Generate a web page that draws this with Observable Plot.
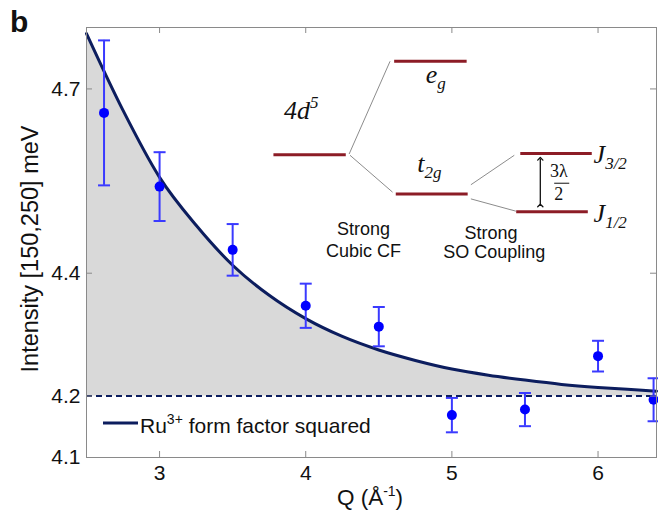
<!DOCTYPE html>
<html><head><meta charset="utf-8">
<script src="https://cdn.jsdelivr.net/npm/d3@7"></script>
<script src="https://cdn.jsdelivr.net/npm/@observablehq/plot@0.6"></script>
<style>
body{margin:0;background:#fff;}
#chart{position:relative;width:658px;height:512px;}
</style></head><body><div id="chart"></div>
<script>
// ---- data ----
const pointQ   = [2.62, 3.0, 3.5, 4.0, 4.5, 5.0, 5.5, 6.0, 6.38];
const pointI   = [4.661, 4.541, 4.438, 4.347, 4.313, 4.169, 4.178, 4.265, 4.194];
const pointErr = [0.118, 0.056, 0.042, 0.036, 0.032, 0.028, 0.027, 0.025, 0.035];

const curveQ = [2.5, 2.75, 3.0, 3.25, 3.5, 3.75, 4.0, 4.25, 4.5, 4.75, 5.0, 5.25, 5.5, 5.75, 6.0, 6.2, 6.4];
const curveI = [4.79, 4.665, 4.556, 4.478, 4.413, 4.364, 4.326, 4.297, 4.275, 4.258, 4.244, 4.234, 4.226, 4.219, 4.214, 4.211, 4.208];

const baselineI = 4.2;
const xTicks = [3, 4, 5, 6];
const yTicks = [4.1, 4.2, 4.4, 4.7];

const xLabel = "Q (Å";
const xLabelSup = "-1";
const yLabel = "Intensity [150,250] meV";
const legendText = "Ru";
const legendSup = "3+";
const legendRest = " form factor squared";
const panelLabel = "b";

// energy-level annotation (in data units of the chart)
const levelNames = ["4d5", "eg", "t2g", "J3/2", "J1/2"];
const levelX1 = [3.779, 4.605, 4.616, 5.468, 5.440];
const levelX2 = [4.274, 5.101, 5.108, 5.957, 5.930];
const levelY  = [4.593, 4.745, 4.529, 4.595, 4.500];
const connX1 = [4.297, 4.303, 5.130, 5.130];
const connY1 = [4.594, 4.592, 4.544, 4.521];
const connX2 = [4.577, 4.594, 5.427, 5.438];
const connY2 = [4.745, 4.532, 4.592, 4.501];

// ---- layout ----
const W = 658, H = 512;
const mL = 86, mT = 27, mR = 2, mB = 55;
const frameW = W - mL - mR, frameH = H - mT - mB;
const sans = "'Liberation Sans', Arial, sans-serif";
const serif = "'Liberation Serif', 'Times New Roman', serif";
const navy = "#0c1d5e";
const errColor = "#3a3aff";
const levelColor = "#8c1c26";
const frameColor = "#8a8a8a";

const points = pointQ.map((q, i) => ({q, v: pointI[i], lo: pointI[i] - pointErr[i], hi: pointI[i] + pointErr[i]}));
const curve = curveQ.map((q, i) => ({q, v: curveI[i]}));
const levels = levelNames.map((n, i) => ({n, x1: levelX1[i], x2: levelX2[i], y: levelY[i]}));
const conns = connX1.map((x, i) => ({x1: x, y1: connY1[i], x2: connX2[i], y2: connY2[i]}));

const capSymbol = {draw(ctx, size) { const r = Math.sqrt(size / Math.PI); ctx.moveTo(-r, 0); ctx.lineTo(r, 0); }};
const fmt = d => String(d);

const chart = Plot.plot({
  width: W, height: H, marginLeft: mL, marginTop: mT, marginRight: mR, marginBottom: mB,
  style: {fontFamily: sans, fontSize: "21px", color: "#111", background: "#fff", overflow: "visible"},
  x: {domain: [2.5, 6.4], label: null},
  y: {domain: [4.1, 4.8], label: null},
  marks: [
    Plot.areaY(curve, {x: "q", y1: baselineI, y2: "v", fill: "#d9d9d9", curve: "monotone-x"}),
    Plot.ruleY([baselineI], {stroke: navy, strokeWidth: 2, strokeDasharray: "6,4"}),
    Plot.line(curve, {x: "q", y: "v", stroke: navy, strokeWidth: 3, curve: "monotone-x"}),
    Plot.ruleX(points, {x: "q", y1: "lo", y2: "hi", stroke: errColor, strokeWidth: 2}),
    Plot.dot(points, {x: "q", y: "lo", symbol: capSymbol, r: 6, stroke: errColor, strokeWidth: 2, fill: "none"}),
    Plot.dot(points, {x: "q", y: "hi", symbol: capSymbol, r: 6, stroke: errColor, strokeWidth: 2, fill: "none"}),
    Plot.dot(points, {x: "q", y: "v", r: 5, fill: "#0000ff", stroke: "none"}),
    // energy level diagram
    Plot.link(conns, {x1: "x1", y1: "y1", x2: "x2", y2: "y2", stroke: "#8c8c8c", strokeWidth: 1}),
    Plot.link(levels, {x1: "x1", y1: "y", x2: "x2", y2: "y", stroke: levelColor, strokeWidth: 3}),
    Plot.link([{x: 5.605, a: 4.5102, b: 4.5862}], {x1: "x", y1: "a", x2: "x", y2: "b", stroke: "#111", strokeWidth: 1.3, markerStart: "arrow", markerEnd: "arrow"}),
    Plot.link([{a: 5.70, b: 5.803, y: 4.5465}], {x1: "a", y1: "y", x2: "b", y2: "y", stroke: "#111", strokeWidth: 1}),
    Plot.text(["Strong", "Cubic CF"], {x: 4.395, y: (d, i) => [4.4614, 4.4272][i], text: d => d, fontSize: 18, fill: "#111", lineAnchor: "bottom"}),
    Plot.text(["Strong", "SO Coupling"], {x: (d, i) => [5.267, 5.29][i], y: (d, i) => [4.4565, 4.424][i], text: d => d, fontSize: 18, fill: "#111", lineAnchor: "bottom"}),
    // frame and inward ticks
    Plot.frame({stroke: frameColor, strokeWidth: 1}),
    Plot.tickX(xTicks, {x: d => d, insetTop: frameH - 6, stroke: frameColor}),
    Plot.tickX(xTicks, {x: d => d, insetBottom: frameH - 6, stroke: frameColor}),
    Plot.tickY(yTicks, {y: d => d, insetRight: frameW - 6, stroke: frameColor}),
    Plot.tickY(yTicks, {y: d => d, insetLeft: frameW - 6, stroke: frameColor}),
    Plot.axisX(xTicks, {tickSize: 0, tickPadding: 8, fontSize: 21, label: null, tickFormat: fmt}),
    Plot.axisY(yTicks, {tickSize: 0, tickPadding: 6, fontSize: 21, label: null, tickFormat: fmt})
  ]
});
document.getElementById("chart").appendChild(chart);

const sx = chart.scale("x"), sy = chart.scale("y");
const svg = d3.select(chart);
const g = svg.append("g");

function rich(x, y, parts, opts) {
  const t = g.append("text").attr("x", x).attr("y", y)
    .attr("font-family", opts.family || sans).attr("font-size", opts.size)
    .attr("font-style", opts.italic ? "italic" : "normal")
    .attr("font-weight", opts.weight || "normal")
    .attr("text-anchor", opts.anchor || "start").attr("fill", "#111");
  let shift = 0;
  for (const [s, kind] of parts) {
    const ts = t.append("tspan").text(s);
    let target = 0, size = opts.size;
    if (kind === "sup") { target = -opts.supShift; size = opts.subSize; }
    if (kind === "sub") { target = opts.subShift; size = opts.subSize; }
    ts.attr("dy", target - shift).attr("font-size", size);
    shift = target;
  }
  return t;
}

// panel label
rich(10, 32, [[panelLabel, ""]], {size: 30, weight: "bold"});
// axis labels
rich(370, 505, [[xLabel, ""], [xLabelSup, "sup"], [")", ""]], {size: 22.5, anchor: "middle", subSize: 14, supShift: 9});
g.append("text").attr("transform", "translate(38,249) rotate(-90)").attr("text-anchor", "middle")
  .attr("font-family", sans).attr("font-size", 23.5).attr("fill", "#111").text(yLabel);
// legend
g.append("line").attr("x1", 103).attr("x2", 138).attr("y1", 423).attr("y2", 423).attr("stroke", navy).attr("stroke-width", 3);
rich(140, 433, [[legendText, ""], [legendSup, "sup"], [legendRest, ""]], {size: 21, subSize: 14, supShift: 9});

// diagram labels (positioned through chart scales)
const ital = {family: serif, size: 26, italic: true, subSize: 17, subShift: 6, supShift: 11};
rich(sx.apply(3.855), sy.apply(4.6497), [["4d", ""], ["5", "sup"]], ital);
rich(sx.apply(4.825), sy.apply(4.7088), [["e", ""], ["g", "sub"]], ital);
rich(sx.apply(4.766), sy.apply(4.5633), [["t", ""], ["2g", "sub"]], ital);
rich(sx.apply(5.973), sy.apply(4.5786), [["J", ""], ["3/2", "sub"]], ital);
rich(sx.apply(5.973), sy.apply(4.483), [["J", ""], ["1/2", "sub"]], ital);
rich(sx.apply(5.735), sy.apply(4.5558), [["3λ", ""]], {family: serif, size: 18, anchor: "middle"});
rich(sx.apply(5.735), sy.apply(4.5184), [["2", ""]], {family: serif, size: 18, anchor: "middle"});
</script></body></html>
